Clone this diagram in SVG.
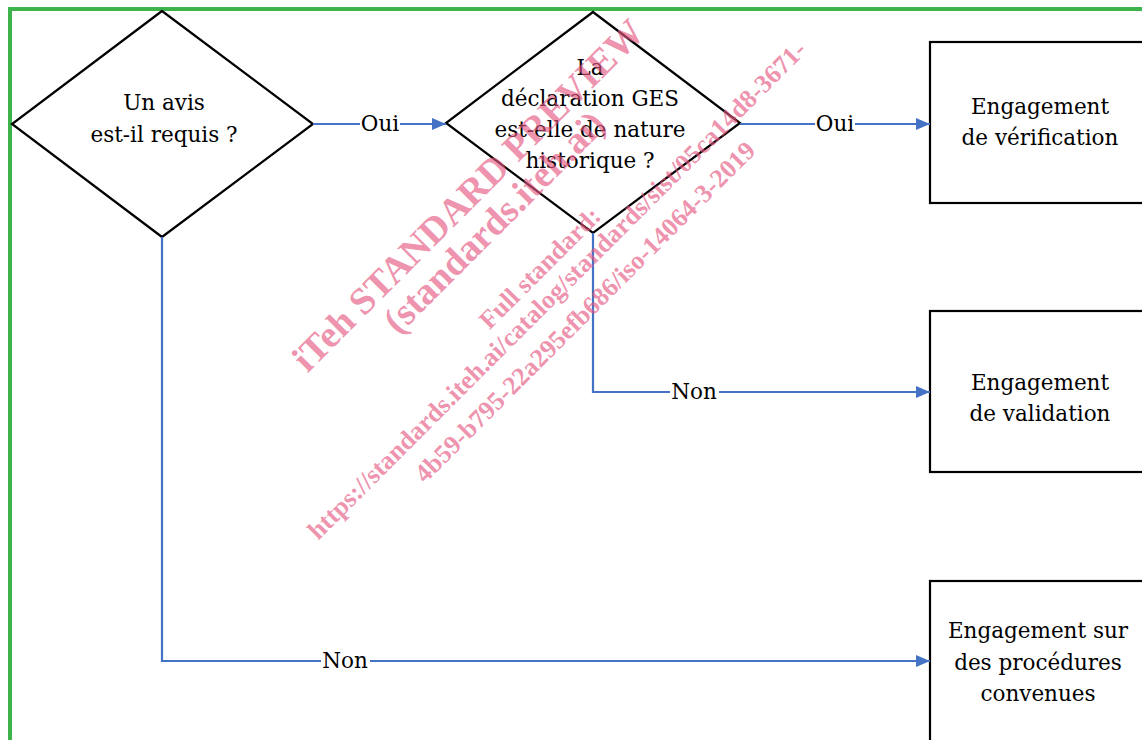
<svg xmlns="http://www.w3.org/2000/svg" width="1142" height="740" viewBox="0 0 1142 740">
<defs>
<marker id="arr" markerWidth="14" markerHeight="12" refX="14" refY="6" orient="auto" markerUnits="userSpaceOnUse">
<path d="M0,0 L14,6 L0,12 Z" fill="#4472C4"/>
</marker>
<style>
.shape{fill:#fff;stroke:#000;stroke-width:2.2}
.t{font-family:"DejaVu Serif","Liberation Serif",serif;font-size:21.5px;fill:#000;text-anchor:middle}
.c{fill:none;stroke:#4472C4;stroke-width:2.2}
.lbl{font-family:"DejaVu Serif","Liberation Serif",serif;font-size:21.5px;fill:#000;text-anchor:middle}
.lb{fill:#fff}
.wm{font-family:"Liberation Serif","Times New Roman",serif;font-weight:bold;fill:#E4557F;fill-opacity:0.65;text-anchor:middle}
</style>
</defs>
<rect width="1142" height="740" fill="#fff"/>
<path d="M10,740 L10,9 L1142,9" fill="none" stroke="#3CB44B" stroke-width="4"/>

<g id="d1">
<polygon class="shape" points="162,11 313,124 162,237 12,124"/>
<text class="t" x="164" y="110">Un avis</text>
<text class="t" x="164" y="142">est-il requis ?</text>
</g>
<g id="d2">
<polygon class="shape" points="593,12 740,123 593,233 446,123"/>
<text class="t" x="590" y="75">La</text>
<text class="t" x="590" y="106">déclaration GES</text>
<text class="t" x="590" y="137">est-elle de nature</text>
<text class="t" x="590" y="168">historique ?</text>
</g>
<g id="b1">
<rect class="shape" x="930" y="42" width="230" height="161"/>
<text class="t" x="1040" y="114">Engagement</text>
<text class="t" x="1040" y="145">de vérification</text>
</g>
<g id="b2">
<rect class="shape" x="930" y="311" width="230" height="161"/>
<text class="t" x="1040" y="390">Engagement</text>
<text class="t" x="1040" y="421">de validation</text>
</g>
<g id="b3">
<rect class="shape" x="930" y="581" width="230" height="200"/>
<text class="t" x="1038" y="638">Engagement sur</text>
<text class="t" x="1038" y="670">des procédures</text>
<text class="t" x="1038" y="701">convenues</text>
</g>

<g id="connectors">
<path class="c" d="M313,124 L446,124" marker-end="url(#arr)"/>
<path class="c" d="M740,124 L930,124" marker-end="url(#arr)"/>
<path class="c" d="M593,233 L593,392 L930,392" marker-end="url(#arr)"/>
<path class="c" d="M162,237 L162,661 L930,661" marker-end="url(#arr)"/>
<rect class="lb" x="360" y="112" width="40" height="24"/>
<text class="lbl" x="380" y="131">Oui</text>
<rect class="lb" x="815" y="112" width="40" height="24"/>
<text class="lbl" x="835" y="131">Oui</text>
<rect class="lb" x="670" y="380" width="49" height="24"/>
<text class="lbl" x="694" y="399">Non</text>
<rect class="lb" x="321" y="649" width="49" height="24"/>
<text class="lbl" x="345" y="668">Non</text>
</g>

<g id="watermark">
<text class="wm" font-size="38" transform="translate(477,204) rotate(-45)">iTeh STANDARD PREVIEW</text>
<text class="wm" font-size="38" transform="translate(503,231) rotate(-45)">(standards.iteh.ai)</text>
<text class="wm" font-size="26" transform="translate(546,274) rotate(-45)">Full standard:</text>
<text class="wm" font-size="26" transform="translate(563,296) rotate(-45)">https://standards.iteh.ai/catalog/standards/sist/05ca14d8-3671-</text>
<text class="wm" font-size="26" transform="translate(591,318) rotate(-45)">4b59-b795-22a295efb686/iso-14064-3-2019</text>
</g>
</svg>
